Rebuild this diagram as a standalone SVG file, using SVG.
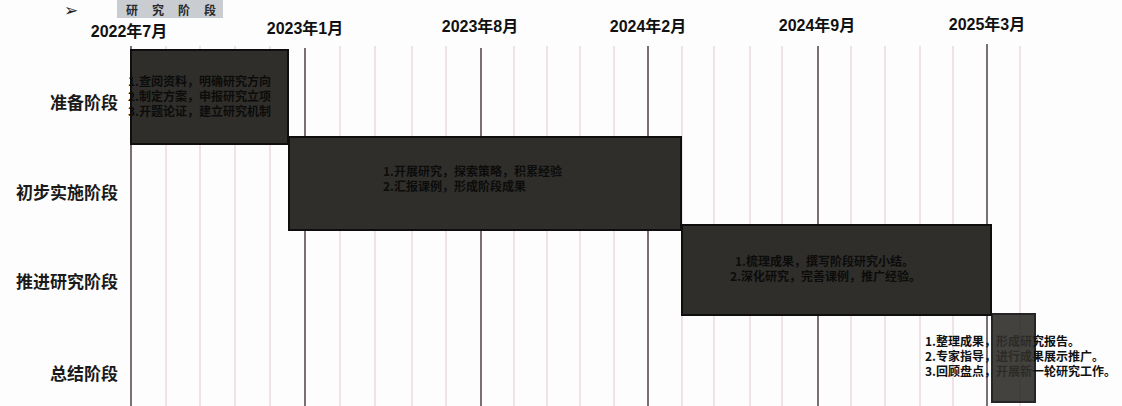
<svg xmlns="http://www.w3.org/2000/svg" width="1122" height="406" viewBox="0 0 1122 406">
<style>
.date{font-family:"Liberation Sans","Noto Sans CJK SC",sans-serif;font-weight:bold;font-size:16px;fill:#111;text-anchor:middle}
.row{font-family:"Noto Sans CJK SC",sans-serif;font-weight:bold;font-size:17px;fill:#1a1a1a;text-anchor:end}
.bar{fill:#2f2e2a;stroke:#0e0e0e;stroke-width:2}
.bt{font-family:"Noto Sans CJK SC",sans-serif;font-weight:bold;font-size:12px;fill:#0c0c0c}
.ot{font-family:"Noto Sans CJK SC",sans-serif;font-weight:bold;font-size:12px;fill:#111}
.major{stroke:#3f3439;stroke-width:1.4}
.minor{stroke:#e2c9d0;stroke-width:1}
</style>
<rect width="1122" height="406" fill="#fdfdfd"/>
<g id="title">
<text x="64" y="16" font-family="DejaVu Sans,sans-serif" font-size="17" fill="#222">➢</text>
<rect x="117" y="0" width="106" height="18" fill="#c9cdd2"/>
<text x="126" y="15" font-family="Noto Sans CJK SC,sans-serif" font-weight="bold" font-size="12" fill="#2a2a2a" textLength="90" lengthAdjust="spacing">研究阶段</text>
</g>
<g id="grid">
<g class="minor">
<line x1="166" y1="46" x2="166" y2="406"/><line x1="200" y1="46" x2="200" y2="406"/><line x1="235" y1="46" x2="235" y2="406"/><line x1="270" y1="46" x2="270" y2="406"/>
<line x1="340" y1="46" x2="340" y2="406"/><line x1="375" y1="46" x2="375" y2="406"/><line x1="412" y1="46" x2="412" y2="406"/><line x1="446" y1="46" x2="446" y2="406"/>
<line x1="514" y1="46" x2="514" y2="406"/><line x1="547" y1="46" x2="547" y2="406"/><line x1="580" y1="46" x2="580" y2="406"/><line x1="614" y1="46" x2="614" y2="406"/>
<line x1="682" y1="46" x2="682" y2="406"/><line x1="714" y1="46" x2="714" y2="406"/><line x1="750" y1="46" x2="750" y2="406"/><line x1="782" y1="46" x2="782" y2="406"/>
<line x1="851" y1="46" x2="851" y2="406"/><line x1="885" y1="46" x2="885" y2="406"/><line x1="920" y1="46" x2="920" y2="406"/><line x1="953" y1="46" x2="953" y2="406"/>
<line x1="1020" y1="46" x2="1020" y2="406"/>
</g>
<g class="major">
<line x1="131" y1="46" x2="131" y2="406"/><line x1="305" y1="48" x2="305" y2="406"/><line x1="481" y1="48" x2="481" y2="406"/><line x1="648" y1="46" x2="648" y2="406"/><line x1="818" y1="46" x2="818" y2="406"/><line x1="987" y1="44" x2="987" y2="406"/>
</g>
</g>
<g id="dates">
<text class="date" x="129" y="37">2022年7月</text>
<text class="date" x="305" y="34">2023年1月</text>
<text class="date" x="480" y="32">2023年8月</text>
<text class="date" x="648" y="32">2024年2月</text>
<text class="date" x="817" y="31">2024年9月</text>
<text class="date" x="987" y="30">2025年3月</text>
</g>
<g id="row-labels">
<text class="row" x="118" y="109">准备阶段</text>
<text class="row" x="118" y="199">初步实施阶段</text>
<text class="row" x="118" y="288">推进研究阶段</text>
<text class="row" x="118" y="380">总结阶段</text>
</g>
<g id="stage1">
<rect class="bar" x="131" y="50" width="157" height="94"/>
<text class="bt" x="128" y="86">1.查阅资料，明确研究方向</text>
<text class="bt" x="128" y="101">2.制定方案，申报研究立项</text>
<text class="bt" x="128" y="116">3.开题论证，建立研究机制</text>
</g>
<g id="stage2">
<rect class="bar" x="289" y="137" width="392" height="93"/>
<text class="bt" x="383" y="176">1.开展研究，探索策略，积累经验</text>
<text class="bt" x="383" y="191">2.汇报课例，形成阶段成果</text>
</g>
<g id="stage3">
<rect class="bar" x="682" y="225" width="309" height="90"/>
<text class="bt" x="735" y="266">1.梳理成果，撰写阶段研究小结。</text>
<text class="bt" x="730" y="281">2.深化研究，完善课例，推广经验。</text>
</g>
<g id="stage4">
<text class="ot" x="925" y="346">1.整理成果，形成研究报告。</text>
<text class="ot" x="925" y="361">2.专家指导，进行成果展示推广。</text>
<text class="ot" x="925" y="376">3.回顾盘点，开展新一轮研究工作。</text>
<rect class="bar" x="992" y="314" width="43" height="88" opacity="0.9"/>
</g>
</svg>
